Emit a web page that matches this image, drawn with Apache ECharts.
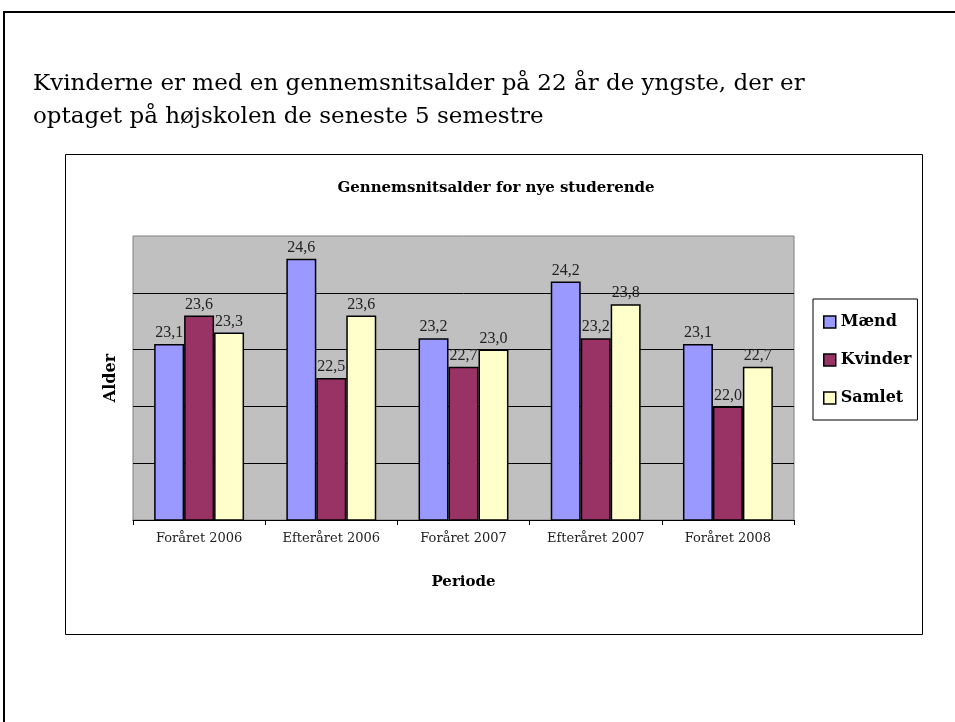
<!DOCTYPE html>
<html>
<head>
<meta charset="utf-8">
<script src="https://cdn.jsdelivr.net/npm/echarts@6/dist/echarts.min.js"></script>
<style>
html,body{margin:0;padding:0;background:#fff;}
#main{width:955px;height:722px;}
</style>
</head>
<body>
<div id="main"></div>
<script>
// data
var perioder = ['Foråret 2006', 'Efteråret 2006', 'Foråret 2007', 'Efteråret 2007', 'Foråret 2008'];
var maend   = [23.1, 24.6, 23.2, 24.2, 23.1];
var kvinder = [23.6, 22.5, 22.7, 23.2, 22.0];
var samlet  = [23.3, 23.6, 23.0, 23.8, 22.7];

var colors = ['#9999ff', '#993366', '#ffffcc', '#c0c0c0', '#000000']; // mænd, kvinder, samlet, plot grå, sort
var serif = '"Liberation Serif", serif';
var serifB = '"DejaVu Serif", serif';

var myChart = echarts.init(document.getElementById('main'));

function barSerie(name, data, color) {
    return {
        name: name,
        type: 'bar',
        data: data,
        barGap: '0%',
        barCategoryGap: '32%',
        itemStyle: {
            color: color,
            borderColor: '#000',
            borderWidth: 1.5
        },
        label: {
            show: true,
            position: 'top',
            distance: 3,
            color: '#222',
            fontFamily: serif,
            fontSize: 16,
            formatter: function (p) { return p.value.toFixed(1).replace('.', ','); }
        }
    };
}

var option = {
    animation: false,
    graphic: [
        { // slide ramme
            type: 'rect', shape: { x: 4, y: 12, width: 1000, height: 800 },
            style: { fill: 'none', stroke: '#000', lineWidth: 2 }
        },
        { // diagram ramme
            type: 'rect', shape: { x: 65.5, y: 154.5, width: 857, height: 480 },
            style: { fill: 'none', stroke: '#000', lineWidth: 1 }
        },
        {
            type: 'text', x: 33, y: 68,
            style: {
                text: 'Kvinderne er med en gennemsnitsalder på 22 år de yngste, der er\noptaget på højskolen de seneste 5 semestre',
                font: '23px "DejaVu Serif", serif', lineHeight: 33, fill: '#000'
            }
        },
        {
            type: 'text', x: 496, y: 188,
            style: {
                text: 'Gennemsnitsalder for nye studerende',
                font: 'bold 15px "DejaVu Serif", serif', fill: '#000',
                align: 'center', verticalAlign: 'middle'
            }
        }
    ],
    grid: {
        left: 133, top: 236, width: 661, height: 284,
        show: true,
        backgroundColor: colors[3],
        borderColor: '#808080',
        borderWidth: 1
    },
    legend: {
        orient: 'vertical',
        left: 813, top: 299,
        backgroundColor: '#fff',
        borderColor: '#000',
        borderWidth: 1,
        padding: [15, 6, 14, 10],
        itemGap: 22,
        itemWidth: 12,
        itemHeight: 12,
        icon: 'rect',
        itemStyle: { borderColor: '#000', borderWidth: 1.5 },
        textStyle: { fontFamily: serifB, fontWeight: 'bold', fontSize: 16, color: '#000' },
        data: ['Mænd', 'Kvinder', 'Samlet']
    },
    xAxis: {
        type: 'category',
        data: perioder,
        axisLine: { lineStyle: { color: '#000', width: 1 } },
        axisTick: { show: true, length: 5, lineStyle: { color: '#000' } },
        axisLabel: { margin: 12, color: '#222', fontFamily: serifB, fontSize: 13 },
        name: 'Periode',
        nameLocation: 'middle',
        nameGap: 55,
        nameTextStyle: { fontFamily: serifB, fontWeight: 'bold', fontSize: 15, color: '#000' }
    },
    yAxis: {
        type: 'value',
        min: 20,
        max: 25,
        interval: 1,
        axisLabel: { show: false },
        axisTick: { show: false },
        axisLine: { show: false },
        splitLine: { show: true, showMaxLine: false, lineStyle: { color: '#000', width: 1 } },
        name: 'Alder',
        nameLocation: 'middle',
        nameRotate: 90,
        nameGap: 14,
        nameTextStyle: { fontFamily: serifB, fontWeight: 'bold', fontSize: 16, color: '#000' }
    },
    series: [
        barSerie('Mænd', maend, colors[0]),
        barSerie('Kvinder', kvinder, colors[1]),
        barSerie('Samlet', samlet, colors[2])
    ]
};
myChart.setOption(option);
</script>
</body>
</html>
